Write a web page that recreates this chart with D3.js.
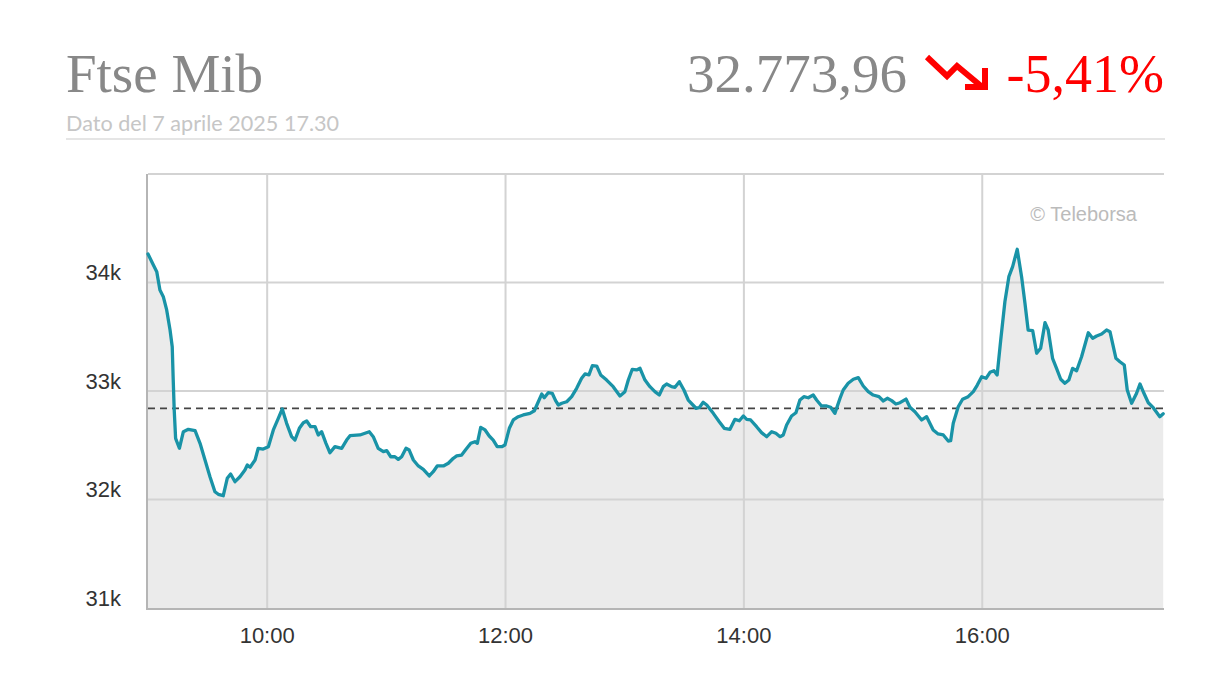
<!DOCTYPE html>
<html>
<head>
<meta charset="utf-8">
<script src="https://cdn.jsdelivr.net/npm/d3@7"></script>
<style>
  html, body { margin: 0; padding: 0; background: #fff; }
  svg { display: block; }
</style>
</head>
<body>
<svg id="chart" width="1217" height="694"></svg>
<script>
// ---- Data ----
const title = "Ftse Mib";
const subtitle = "Dato del 7 aprile 2025 17.30";
const lastPrice = "32.773,96";
const changePct = "-5,41%";
const credit = "\u00A9 Teleborsa";
const referenceLevel = 32840;

// minutes after 09:00 on 7 April 2025
const minutesFromOpen = [
  0, 2.7, 4.4, 6.0, 7.7, 9.4, 11.1, 12.2, 12.7, 13.2,
  13.9, 15.8, 17.8, 20.3, 23.7, 26.2, 28.7, 31.2, 33.7, 35.4,
  37.9, 39.9, 41.6, 43.8, 46.3, 48.8, 50.0, 51.4, 53.9, 55.5,
  58.0, 60.6, 63.1, 65.6, 67.6, 69.8, 72.3, 74.0, 76.2, 78.2,
  79.9, 81.9, 84.1, 85.7, 87.4, 89.6, 91.6, 94.1, 97.5, 100.0,
  101.7, 106.7, 111.4, 113.4, 115.9, 118.5, 120.2, 122.2, 124.3, 126.0,
  127.7, 129.9, 131.5, 133.6, 136.1, 138.6, 141.6, 143.6, 145.6, 148.7,
  151.2, 153.7, 155.4, 157.9, 160.1, 162.5, 164.6, 165.8, 167.5, 169.7,
  171.8, 173.8, 175.8, 178.1, 179.7, 181.9, 183.9, 186.4, 188.9, 192.3,
  194.5, 196.5, 198.2, 199.5, 201.5, 203.5, 205.2, 206.6, 208.3, 210.8,
  213.3, 215.8, 218.3, 220.0, 222.0, 223.7, 225.9, 227.9, 230.9, 234.2,
  237.6, 240.1, 241.8, 243.8, 246.0, 247.7, 250.2, 252.7, 255.2, 257.4,
  259.4, 261.1, 263.6, 265.3, 267.5, 269.8, 272.0, 275.9, 277.5, 279.5,
  281.3, 284.6, 287.6, 290.1, 293.0, 295.5, 297.7, 299.7, 301.4, 303.4,
  306.4, 308.9, 311.5, 314.0, 316.1, 318.2, 319.8, 321.5, 324.0, 326.2,
  328.2, 330.2, 332.4, 334.9, 336.6, 339.1, 341.7, 343.7, 345.8, 348.4,
  350.0, 352.5, 355.1, 357.6, 360.1, 362.6, 365.1, 368.0, 370.2, 372.2,
  374.4, 376.5, 378.6, 381.6, 383.6, 386.1, 389.5, 392.0, 395.3, 397.8,
  400.4, 402.9, 404.1, 405.4, 407.9, 410.1, 412.9, 415.5, 417.5, 419.7,
  421.9, 423.9, 425.9, 427.5, 429.3, 431.4, 433.4, 435.3, 437.6, 439.8,
  441.5, 443.1, 445.4, 447.4, 449.4, 451.6, 453.2, 455.4, 457.4, 459.5,
  461.6, 463.6, 465.5, 467.5, 470.0, 473.4, 475.6, 477.6, 480.1, 482.6,
  484.3, 487.3, 489.3, 491.5, 493.0, 495.2, 497.7, 499.4, 501.4, 503.6,
  506.1, 509.4, 511.1
];

const indexValues = [
  34263, 34161, 34100, 33931, 33869, 33747, 33562, 33408, 33101, 32825,
  32564, 32472, 32625, 32647, 32634, 32518, 32364, 32210, 32072, 32048,
  32035, 32195, 32235, 32164, 32210, 32272, 32318, 32297, 32364, 32472,
  32465, 32487, 32641, 32748, 32834, 32702, 32579, 32548, 32656, 32708,
  32724, 32671, 32671, 32595, 32625, 32518, 32431, 32487, 32472, 32548,
  32588, 32595, 32625, 32579, 32472, 32441, 32450, 32394, 32394, 32370,
  32394, 32472, 32456, 32364, 32309, 32278, 32217, 32256, 32309, 32309,
  32334, 32380, 32401, 32410, 32463, 32518, 32533, 32518, 32665, 32641,
  32585, 32548, 32487, 32487, 32502, 32656, 32733, 32763, 32779, 32794,
  32818, 32901, 32972, 32938, 32984, 32979, 32911, 32871, 32887, 32901,
  32948, 33025, 33117, 33157, 33148, 33233, 33230, 33148, 33101, 33040,
  32954, 32994, 33101, 33200, 33194, 33209, 33101, 33040, 32994, 32963,
  33040, 33065, 33040, 33034, 33086, 33009, 32917, 32841, 32846, 32896,
  32871, 32794, 32717, 32656, 32647, 32739, 32726, 32770, 32739, 32733,
  32671, 32616, 32579, 32625, 32610, 32579, 32595, 32687, 32770, 32800,
  32917, 32948, 32938, 32963, 32917, 32862, 32862, 32850, 32794, 32933,
  33009, 33071, 33108, 33123, 33046, 32994, 32963, 32948, 32908, 32933,
  32911, 32880, 32892, 32926, 32850, 32809, 32733, 32763, 32641, 32604,
  32595, 32539, 32542, 32702, 32855, 32924, 32948, 32994, 33055, 33132,
  33117, 33172, 33187, 33148, 33470, 33823, 34054, 34146, 34306, 34054,
  33808, 33562, 33556, 33348, 33394, 33630, 33562, 33301, 33209, 33108,
  33071, 33101, 33209, 33187, 33316, 33537, 33486, 33507, 33525, 33562,
  33547, 33301, 33270, 33240, 33009, 32887, 32979, 33065, 32979, 32892,
  32846, 32763, 32790
];

const yTicks = [31000, 32000, 33000, 34000, 35000];
const yTickLabels = ["31k", "32k", "33k", "34k", ""];
const xTickHours = [10, 12, 14, 16];
const xTickLabels = ["10:00", "12:00", "14:00", "16:00"];

// ---- Build ----
const day = new Date(2025, 3, 7, 9, 0, 0);
const toDate = m => new Date(day.getTime() + m * 60000);
const data = minutesFromOpen.map((m, i) => ({ t: toDate(m), v: indexValues[i] }));

const svg = d3.select("#chart");
const plot = { left: 148, right: 1164, top: 174, bottom: 608 };

const x = d3.scaleTime()
  .domain([toDate(0), toDate(511.5)])
  .range([plot.left, plot.right]);
const y = d3.scaleLinear()
  .domain([31000, 35000])
  .range([plot.bottom, plot.top]);

// Header
svg.append("text")
  .attr("x", 66).attr("y", 92)
  .attr("font-family", "'Liberation Serif', 'Times New Roman', serif")
  .attr("font-size", 55).attr("fill", "#888")
  .text(title);

svg.append("text")
  .attr("x", 66).attr("y", 131)
  .attr("font-family", "Lato, sans-serif")
  .attr("font-size", 21.6).attr("fill", "#c6c6c6")
  .text(subtitle);

svg.append("text")
  .attr("x", 907).attr("y", 92).attr("text-anchor", "end")
  .attr("font-family", "'Liberation Serif', 'Times New Roman', serif")
  .attr("font-size", 55).attr("fill", "#888")
  .text(lastPrice);

svg.append("text")
  .attr("x", 1164).attr("y", 92).attr("text-anchor", "end")
  .attr("font-family", "'Liberation Serif', 'Times New Roman', serif")
  .attr("font-size", 54).attr("fill", "#ff0000")
  .text(changePct);

// down-trend arrow icon
const arrow = svg.append("g").attr("fill", "none").attr("stroke", "#ff0000")
  .attr("stroke-width", 6).attr("stroke-linejoin", "miter").attr("stroke-linecap", "butt");
arrow.append("path").attr("d", "M927,57 L947,76 L957,66 L981,86");
arrow.append("path").attr("d", "M965,87 L985,87 L985,68");

svg.append("line")
  .attr("x1", 66).attr("x2", 1165).attr("y1", 139).attr("y2", 139)
  .attr("stroke", "#dddddd").attr("stroke-width", 1.5);

// Area
const area = d3.area()
  .x(d => x(d.t)).y0(y(31000)).y1(d => y(d.v));
svg.append("path").datum(data)
  .attr("d", area).attr("fill", "#ebebeb");

// Grid
const grid = svg.append("g");
grid.selectAll("line.h").data(yTicks.filter(v => v > 31000)).join("line")
  .attr("class", "h")
  .attr("x1", plot.left).attr("x2", plot.right)
  .attr("y1", d => y(d)).attr("y2", d => y(d))
  .attr("stroke", "#d3d3d3").attr("stroke-width", 2);
grid.selectAll("line.v").data(xTickHours).join("line")
  .attr("class", "v")
  .attr("x1", d => x(new Date(2025, 3, 7, d, 0, 0)))
  .attr("x2", d => x(new Date(2025, 3, 7, d, 0, 0)))
  .attr("y1", plot.top).attr("y2", plot.bottom)
  .attr("stroke", "#d3d3d3").attr("stroke-width", 2);

// Axes lines
svg.append("line")
  .attr("x1", plot.left - 1).attr("x2", plot.left - 1)
  .attr("y1", plot.top).attr("y2", plot.bottom + 1)
  .attr("stroke", "#b5b5b5").attr("stroke-width", 2);
svg.append("line")
  .attr("x1", plot.left - 2).attr("x2", plot.right)
  .attr("y1", plot.bottom + 1).attr("y2", plot.bottom + 1)
  .attr("stroke", "#b5b5b5").attr("stroke-width", 2);

// Y labels
svg.selectAll("text.ylab").data(yTicks).join("text")
  .attr("class", "ylab")
  .attr("x", 121).attr("y", d => y(d) - 2.5)
  .attr("text-anchor", "end")
  .attr("font-family", "'Liberation Sans', Arial, sans-serif")
  .attr("font-size", 22).attr("fill", "#333")
  .text((d, i) => yTickLabels[i]);

// X labels
svg.selectAll("text.xlab").data(xTickHours).join("text")
  .attr("class", "xlab")
  .attr("x", d => x(new Date(2025, 3, 7, d, 0, 0)))
  .attr("y", 643)
  .attr("text-anchor", "middle")
  .attr("font-family", "'Liberation Sans', Arial, sans-serif")
  .attr("font-size", 22).attr("fill", "#333")
  .text((d, i) => xTickLabels[i]);

// Reference dashed line
svg.append("line")
  .attr("x1", plot.left).attr("x2", plot.right)
  .attr("y1", y(referenceLevel)).attr("y2", y(referenceLevel))
  .attr("stroke", "#444").attr("stroke-width", 1.6)
  .attr("stroke-dasharray", "7,5");

// Line
const line = d3.line().x(d => x(d.t)).y(d => y(d.v));
svg.append("path").datum(data)
  .attr("d", line).attr("fill", "none")
  .attr("stroke", "#1993a7").attr("stroke-width", 3.3)
  .attr("stroke-linejoin", "round").attr("stroke-linecap", "round");

// Credit
svg.append("text")
  .attr("x", 1137).attr("y", 221).attr("text-anchor", "end")
  .attr("font-family", "'Liberation Sans', Arial, sans-serif")
  .attr("font-size", 20).attr("fill", "#bbbbbb")
  .text(credit);
</script>
</body>
</html>
